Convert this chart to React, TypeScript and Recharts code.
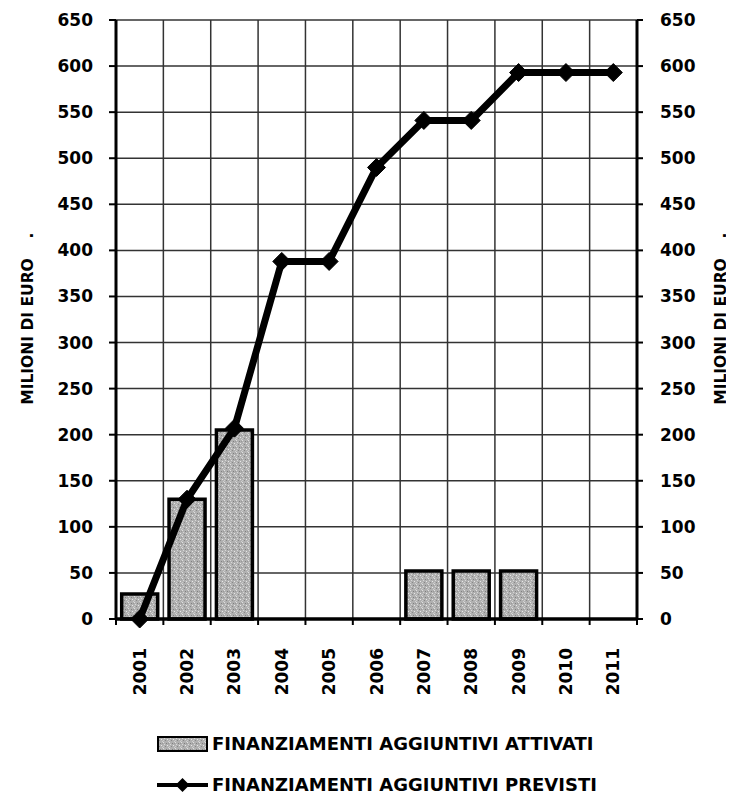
import React from 'react';
import { ComposedChart, Bar, Line, XAxis, YAxis, CartesianGrid, Legend } from 'recharts';

const YEARS = ['2001', '2002', '2003', '2004', '2005', '2006', '2007', '2008', '2009', '2010', '2011'];
const ATTIVATI: (number | null)[] = [27, 130, 205, null, null, null, 52, 52, 52, null, null];
const PREVISTI: number[] = [0, 130, 207, 388, 388, 490, 541, 541, 593, 593, 593];
const Y_TICKS: number[] = [0, 50, 100, 150, 200, 250, 300, 350, 400, 450, 500, 550, 600, 650];
const AXIS_TITLE = 'MILIONI DI EURO';
const SERIES_BAR = 'FINANZIAMENTI AGGIUNTIVI ATTIVATI';
const SERIES_LINE = 'FINANZIAMENTI AGGIUNTIVI PREVISTI';

const data = YEARS.map((year, i) => ({ year, attivati: ATTIVATI[i], previsti: PREVISTI[i] }));

const FONT = '"DejaVu Sans", sans-serif';
const BAR_FILL = 'url(#speckle)';

const SpeckleDefs = () => (
  <defs>
    <pattern id="speckle" patternUnits="userSpaceOnUse" width={6} height={6}>
      <rect x={0} y={0} width={6} height={6} fill="#b0b0b0" />
      <rect x={0} y={0} width={1} height={1} fill="#e0e0e0" />
      <rect x={3} y={1} width={1} height={1} fill="#808080" />
      <rect x={1} y={2} width={1} height={1} fill="#d8d8d8" />
      <rect x={4} y={3} width={1} height={1} fill="#e8e8e8" />
      <rect x={2} y={4} width={1} height={1} fill="#888" />
      <rect x={5} y={5} width={1} height={1} fill="#d0d0d0" />
      <rect x={5} y={1} width={1} height={1} fill="#999" />
      <rect x={0} y={4} width={1} height={1} fill="#ccc" />
    </pattern>
  </defs>
);

const XTick = (props: any) => {
  const { x, y, payload, index, visibleTicksCount } = props;
  const half = payload && typeof payload.offset === 'number' ? payload.offset : 0;
  const ty = y + 29;
  const isLast = index === visibleTicksCount - 1;
  return (
    <g>
      {half ? <line x1={x - half} x2={x - half} y1={y} y2={y + 6} stroke="#000" strokeWidth={2} /> : null}
      {half && isLast ? <line x1={x + half} x2={x + half} y1={y} y2={y + 6} stroke="#000" strokeWidth={2} /> : null}
      <text
        x={x}
        y={ty}
        transform={`rotate(-90 ${x} ${ty})`}
        textAnchor="end"
        dominantBaseline="central"
        fontFamily={FONT}
        fontWeight="bold"
        fontSize={17}
        fill="#000"
      >
        {payload.value}
      </text>
    </g>
  );
};

const AxisTitle = (props: any) => {
  const { viewBox, side } = props;
  if (!viewBox) return null;
  const { x, y, height } = viewBox;
  const bx = side === 'left' ? x + 25 : x + 89;
  const cy = y + height * 0.52;
  const dy = y + height * 0.36;
  return (
    <g>
      <text
        x={bx}
        y={cy}
        transform={`rotate(-90 ${bx} ${cy})`}
        textAnchor="middle"
        fontFamily={FONT}
        fontWeight="bold"
        fontSize={15.5}
        fill="#000"
      >
        {AXIS_TITLE}
      </text>
      <text
        x={bx}
        y={dy}
        transform={`rotate(-90 ${bx} ${dy})`}
        textAnchor="middle"
        fontFamily={FONT}
        fontWeight="bold"
        fontSize={15.5}
        fill="#000"
      >
        .
      </text>
    </g>
  );
};

const Diamond = (props: any) => {
  const { cx, cy, index } = props;
  if (cx == null || cy == null) return <g key={`d-${index}`} />;
  const r = 9;
  return (
    <path
      key={`d-${index}`}
      d={`M${cx},${cy - r} L${cx + r},${cy} L${cx},${cy + r} L${cx - r},${cy} Z`}
      fill="#000"
      stroke="#000"
      strokeWidth={1}
    />
  );
};

const LegendBox = () => (
  <div
    style={{
      width: 726,
      height: 87,
      position: 'relative',
      fontFamily: FONT,
      fontWeight: 'bold',
      fontSize: 18,
      color: '#000',
      lineHeight: '20px',
    }}
  >
    <div style={{ position: 'absolute', left: 149, top: 26, height: 20, display: 'flex', alignItems: 'center', whiteSpace: 'nowrap' }}>
      <svg width={51} height={16} style={{ display: 'block' }}>
        <SpeckleDefs />
        <rect x={1} y={1} width={49} height={14} fill={BAR_FILL} stroke="#000" strokeWidth={2} />
      </svg>
      <span style={{ marginLeft: 4 }}>{SERIES_BAR}</span>
    </div>
    <div style={{ position: 'absolute', left: 149, top: 67, height: 20, display: 'flex', alignItems: 'center', whiteSpace: 'nowrap' }}>
      <svg width={51} height={18} style={{ display: 'block' }}>
        <line x1={0} y1={9} x2={51} y2={9} stroke="#000" strokeWidth={4} />
        <path d="M25.5,2 L32.5,9 L25.5,16 L18.5,9 Z" fill="#000" />
      </svg>
      <span style={{ marginLeft: 4 }}>{SERIES_LINE}</span>
    </div>
  </div>
);

export default function App() {
  const tickStyle = { fontFamily: FONT, fontWeight: 'bold', fontSize: 17, fill: '#000' } as any;
  return (
    <ComposedChart
      width={726}
      height={787}
      data={data}
      margin={{ top: 12, right: 0, bottom: 0, left: 0 }}
      barCategoryGap="12%"
    >
      <SpeckleDefs />
      <CartesianGrid
        yAxisId="left"
        stroke="#333"
        strokeWidth={1.5}
        verticalCoordinatesGenerator={(p: any) => {
          const off = p.offset;
          const n = YEARS.length;
          const out: number[] = [];
          for (let i = 1; i < n; i++) out.push(off.left + (off.width * i) / n);
          return out;
        }}
      />
      <XAxis
        dataKey="year"
        interval={0}
        height={89}
        tickLine={false}
        tickSize={0}
        tickMargin={0}
        axisLine={{ stroke: '#000', strokeWidth: 3.5 }}
        tick={<XTick />}
      />
      <YAxis
        yAxisId="left"
        orientation="left"
        width={108}
        domain={[0, 650]}
        ticks={Y_TICKS}
        interval={0}
        tickSize={7}
        tickMargin={16}
        axisLine={{ stroke: '#000', strokeWidth: 3 }}
        tickLine={{ stroke: '#000', strokeWidth: 2 }}
        tick={tickStyle}
        label={<AxisTitle side="left" />}
      />
      <YAxis
        yAxisId="right"
        orientation="right"
        width={97}
        domain={[0, 650]}
        ticks={Y_TICKS}
        interval={0}
        tickSize={6}
        tickMargin={17}
        axisLine={{ stroke: '#000', strokeWidth: 3 }}
        tickLine={{ stroke: '#000', strokeWidth: 2 }}
        tick={tickStyle}
        label={<AxisTitle side="right" />}
      />
      <Legend verticalAlign="bottom" wrapperStyle={{ margin: 0, padding: 0 }} content={() => <LegendBox />} />
      <Bar
        yAxisId="left"
        dataKey="attivati"
        name={SERIES_BAR}
        fill={BAR_FILL}
        stroke="#000"
        strokeWidth={3.5}
        isAnimationActive={false}
      />
      <Line
        yAxisId="right"
        dataKey="previsti"
        name="right-axis-anchor"
        stroke="none"
        strokeWidth={0}
        dot={false}
        activeDot={false}
        legendType="none"
        isAnimationActive={false}
      />
      <Line
        yAxisId="left"
        dataKey="previsti"
        name={SERIES_LINE}
        stroke="#000"
        strokeWidth={7}
        strokeLinejoin="round"
        dot={(p: any) => <Diamond {...p} />}
        activeDot={false}
        isAnimationActive={false}
      />
    </ComposedChart>
  );
}
